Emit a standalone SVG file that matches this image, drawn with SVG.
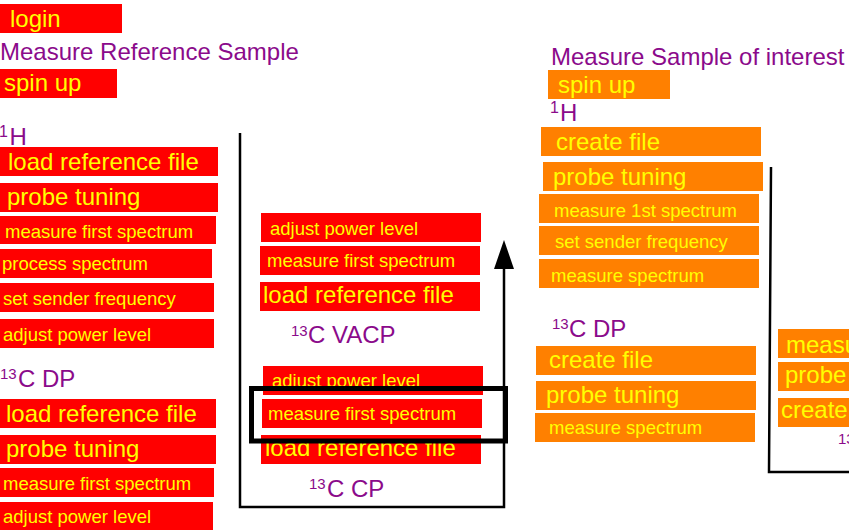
<svg xmlns="http://www.w3.org/2000/svg" width="849" height="530" viewBox="0 0 849 530">
<style>
text{font-family:"Liberation Sans",Arial,sans-serif}
.r{fill:#FF0000}
.o{fill:#FF8000}
.t{fill:#FFFF00;font-size:24px}
.s{fill:#FFFF00;font-size:18.5px}
.p{fill:#8B0A8B;font-size:24px}
.sup{font-size:15px}
.sup1{font-size:16px}
.ln{stroke:#000;stroke-width:2.5;fill:none}
</style>
<rect width="849" height="530" fill="#fff"/>
<g id="connectors">
<polyline class="ln" points="240,133 240,507 504,507 504,266"/>
<polygon points="504,240 494,269 514,269" fill="#000"/>
<polyline class="ln" points="771,167 769,472 849,472"/>
</g>
<g id="login"><rect class="r" x="0" y="4" width="122" height="29"/><text class="t" x="10" y="26.5">login</text></g>
<g id="title-ref"><text class="p" x="0" y="60">Measure Reference Sample</text></g>
<g id="spinup-ref"><rect class="r" x="0" y="69" width="117" height="29"/><text class="t" x="4" y="91">spin up</text></g>
<g id="h1-ref"><text class="p"><tspan class="sup1" x="-1" y="137">1</tspan><tspan x="9.5" y="144.5">H</tspan></text></g>
<g id="l-load1"><rect class="r" x="0" y="147" width="218" height="29"/><text class="t" x="8" y="169.5">load reference file</text></g>
<g id="l-probe1"><rect class="r" x="0" y="183" width="218" height="29"/><text class="t" x="7" y="205">probe tuning</text></g>
<g id="l-measure1"><rect class="r" x="0" y="216" width="216" height="28"/><text class="s" x="5" y="238">measure first spectrum</text></g>
<g id="l-process"><rect class="r" x="0" y="249" width="212" height="29"/><text class="s" x="2" y="270">process spectrum</text></g>
<g id="l-sender"><rect class="r" x="0" y="283" width="214" height="29"/><text class="s" x="3" y="305">set sender frequency</text></g>
<g id="l-power1"><rect class="r" x="0" y="319" width="214" height="29"/><text class="s" x="3" y="341">adjust power level</text></g>
<g id="c13dp-ref"><text class="p"><tspan class="sup" x="0" y="379">13</tspan><tspan x="18" y="387">C DP</tspan></text></g>
<g id="l-load2"><rect class="r" x="0" y="399" width="216" height="29"/><text class="t" x="6" y="421.5">load reference file</text></g>
<g id="l-probe2"><rect class="r" x="0" y="435" width="216" height="29"/><text class="t" x="6" y="457">probe tuning</text></g>
<g id="l-measure2"><rect class="r" x="0" y="468" width="214" height="29"/><text class="s" x="3" y="490">measure first spectrum</text></g>
<g id="l-power2"><rect class="r" x="0" y="502" width="213" height="29"/><text class="s" x="3" y="523">adjust power level</text></g>
<g id="m-power1"><rect class="r" x="261" y="213" width="220" height="29"/><text class="s" x="270" y="234.5">adjust power level</text></g>
<g id="m-measure1"><rect class="r" x="260" y="246" width="220" height="29"/><text class="s" x="267" y="267">measure first spectrum</text></g>
<g id="m-load1"><rect class="r" x="260" y="282" width="220" height="29"/><text class="t" x="263" y="302.5">load reference file</text></g>
<g id="vacp"><text class="p"><tspan class="sup" x="291" y="336">13</tspan><tspan x="308" y="343">C VACP</tspan></text></g>
<g id="m-power2"><rect class="r" x="263" y="366" width="220" height="29"/><text class="s" x="272" y="387">adjust power level</text></g>
<g id="m-measure2"><rect class="r" x="262" y="399" width="220" height="29"/><text class="s" x="268" y="420">measure first spectrum</text></g>
<g id="m-load2"><rect class="r" x="261" y="435" width="220" height="29"/><text class="t" x="265" y="455.5">load reference file</text></g>
<g id="cp"><text class="p"><tspan class="sup" x="309" y="489">13</tspan><tspan x="327" y="497">C CP</tspan></text></g>
<g id="highlight"><rect x="251.5" y="388.5" width="254" height="52.5" fill="none" stroke="#000" stroke-width="5"/></g>
<g id="title-int"><text class="p" x="551" y="65">Measure Sample of interest</text></g>
<g id="spinup-int"><rect class="o" x="548" y="70" width="122" height="29"/><text class="t" x="558" y="93">spin up</text></g>
<g id="h1-int"><text class="p"><tspan class="sup1" x="550" y="113">1</tspan><tspan x="560" y="121">H</tspan></text></g>
<g id="r-create1"><rect class="o" x="541" y="127" width="220" height="29"/><text class="t" x="556" y="149.5">create file</text></g>
<g id="r-probe1"><rect class="o" x="543" y="162" width="220" height="29"/><text class="t" x="553" y="184.5">probe tuning</text></g>
<g id="r-measure1"><rect class="o" x="539" y="194" width="220" height="29"/><text class="s" x="554" y="216.5">measure 1st spectrum</text></g>
<g id="r-sender"><rect class="o" x="539" y="226" width="220" height="29"/><text class="s" x="555" y="248">set sender frequency</text></g>
<g id="r-measure2"><rect class="o" x="539" y="259" width="220" height="29"/><text class="s" x="551" y="282">measure spectrum</text></g>
<g id="c13dp-int"><text class="p"><tspan class="sup" x="552" y="329">13</tspan><tspan x="569" y="337">C DP</tspan></text></g>
<g id="r-create2"><rect class="o" x="536" y="346" width="220" height="29"/><text class="t" x="549" y="368">create file</text></g>
<g id="r-probe2"><rect class="o" x="536" y="381" width="220" height="29"/><text class="t" x="546" y="403">probe tuning</text></g>
<g id="r-measure3"><rect class="o" x="535" y="413" width="220" height="29"/><text class="s" x="549" y="434">measure spectrum</text></g>
<g id="f-measure"><rect class="o" x="778" y="329" width="220" height="29"/><text class="t" x="786" y="352.5">measure spectrum</text></g>
<g id="f-probe"><rect class="o" x="778" y="362" width="220" height="29"/><text class="t" x="785" y="383">probe tuning</text></g>
<g id="f-create"><rect class="o" x="778" y="398" width="220" height="29"/><text class="t" x="781" y="418">create file</text></g>
<g id="f-label"><text class="p"><tspan class="sup" x="838" y="444">13</tspan><tspan x="855" y="452">C CP</tspan></text></g>
</svg>
